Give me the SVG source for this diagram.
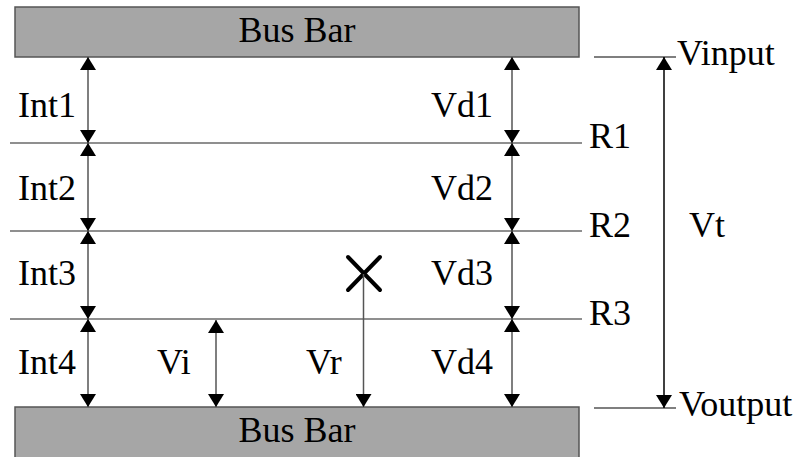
<svg xmlns="http://www.w3.org/2000/svg" width="804" height="457" viewBox="0 0 804 457">
  <defs>
    <marker id="ah" viewBox="0 0 13 16" refX="13" refY="8" markerWidth="13" markerHeight="16" markerUnits="userSpaceOnUse" orient="auto-start-reverse">
      <path d="M0,0 L13,8 L0,16 z" fill="#000"/>
    </marker>
  </defs>
  <rect width="804" height="457" fill="#fff"/>

  <g id="busbar-top">
    <rect x="15" y="7" width="564" height="50" fill="#a6a6a6" stroke="#555" stroke-width="1.5"/>
    <text x="297" y="42" text-anchor="middle" font-family="Times New Roman" font-size="36">Bus Bar</text>
  </g>
  <g id="busbar-bottom">
    <rect x="15" y="407" width="564" height="55" fill="#a6a6a6" stroke="#555" stroke-width="1.5"/>
    <text x="297" y="442" text-anchor="middle" font-family="Times New Roman" font-size="36">Bus Bar</text>
  </g>
  <g id="R1">
    <line x1="10" y1="143" x2="582" y2="143" stroke="#6a6a6a" stroke-width="1.5"/>
    <text x="589" y="148" font-family="Times New Roman" font-size="36">R1</text>
  </g>
  <g id="R2">
    <line x1="10" y1="231" x2="582" y2="231" stroke="#6a6a6a" stroke-width="1.5"/>
    <text x="589" y="237" font-family="Times New Roman" font-size="36">R2</text>
  </g>
  <g id="R3">
    <line x1="10" y1="319" x2="582" y2="319" stroke="#6a6a6a" stroke-width="1.5"/>
    <text x="589" y="325" font-family="Times New Roman" font-size="36">R3</text>
  </g>
  <g id="Vinput">
    <line x1="594" y1="57" x2="676" y2="57" stroke="#555" stroke-width="1.5"/>
    <text x="677" y="65" font-family="Times New Roman" font-size="36">Vinput</text>
  </g>
  <g id="Voutput">
    <line x1="594" y1="408" x2="676" y2="408" stroke="#555" stroke-width="1.5"/>
    <text x="679" y="416" font-family="Times New Roman" font-size="36">Voutput</text>
  </g>
  <g id="fault">
    <path d="M348,257 L380,290 M380,257 L348,290" stroke="#000" stroke-width="4" stroke-linecap="round" fill="none"/>
  </g>

  <g id="connectors" stroke="#555" stroke-width="1.5" fill="none">
    <line x1="88" y1="57" x2="88" y2="143" marker-start="url(#ah)" marker-end="url(#ah)"/>
    <line x1="88" y1="143" x2="88" y2="231" marker-start="url(#ah)" marker-end="url(#ah)"/>
    <line x1="88" y1="231" x2="88" y2="319" marker-start="url(#ah)" marker-end="url(#ah)"/>
    <line x1="88" y1="319" x2="88" y2="407" marker-start="url(#ah)" marker-end="url(#ah)"/>
    <line x1="512" y1="57" x2="512" y2="143" marker-start="url(#ah)" marker-end="url(#ah)"/>
    <line x1="512" y1="143" x2="512" y2="231" marker-start="url(#ah)" marker-end="url(#ah)"/>
    <line x1="512" y1="231" x2="512" y2="319" marker-start="url(#ah)" marker-end="url(#ah)"/>
    <line x1="512" y1="319" x2="512" y2="407" marker-start="url(#ah)" marker-end="url(#ah)"/>
    <line x1="216" y1="320" x2="216" y2="407" marker-start="url(#ah)" marker-end="url(#ah)"/>
    <line x1="363.5" y1="274" x2="363.5" y2="407" marker-end="url(#ah)"/>
    <line x1="664" y1="57" x2="664" y2="408" stroke="#000" marker-start="url(#ah)" marker-end="url(#ah)"/>
  </g>

  <g id="labels">
    <text x="18" y="117" font-family="Times New Roman" font-size="36">Int1</text>
    <text x="18" y="200" font-family="Times New Roman" font-size="36">Int2</text>
    <text x="18" y="285" font-family="Times New Roman" font-size="36">Int3</text>
    <text x="18" y="374" font-family="Times New Roman" font-size="36">Int4</text>
    <text x="431" y="117" font-family="Times New Roman" font-size="36">Vd1</text>
    <text x="431" y="200" font-family="Times New Roman" font-size="36">Vd2</text>
    <text x="431" y="285" font-family="Times New Roman" font-size="36">Vd3</text>
    <text x="431" y="374" font-family="Times New Roman" font-size="36">Vd4</text>
    <text x="157" y="374" font-family="Times New Roman" font-size="36">Vi</text>
    <text x="306" y="374" font-family="Times New Roman" font-size="36">Vr</text>
    <text x="689" y="237" font-family="Times New Roman" font-size="36">Vt</text>
  </g>
</svg>
